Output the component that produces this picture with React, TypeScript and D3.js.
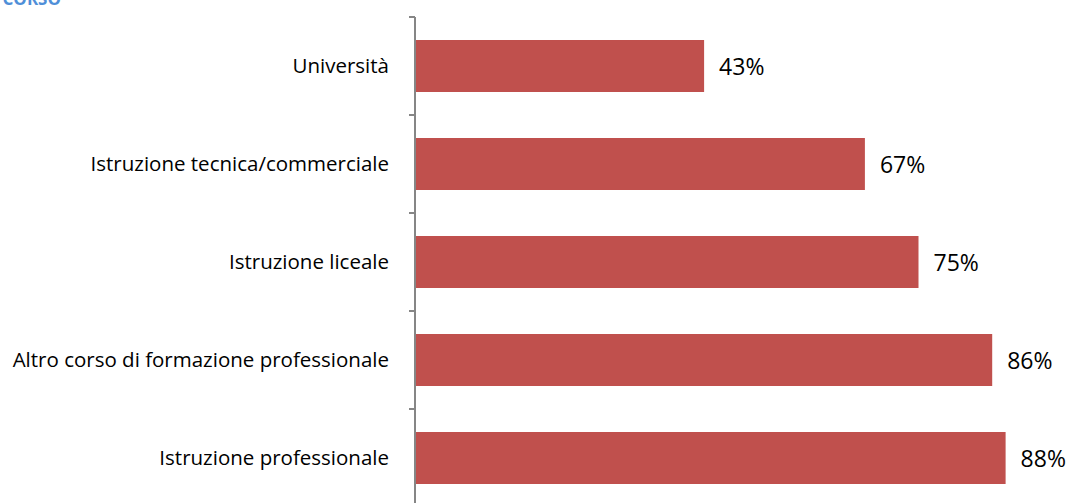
import React from "react";
import * as d3 from "d3";

const categories = [
  "Università",
  "Istruzione tecnica/commerciale",
  "Istruzione liceale",
  "Altro corso di formazione professionale",
  "Istruzione professionale",
];
const values = [43, 67, 75, 86, 88];

const W = 1071;
const H = 503;

export default function App() {
  const y = d3.scaleBand<string>().domain(categories).range([17, 507]).paddingInner(0.4694).paddingOuter(0.2347);
  const x = d3.scaleLinear().domain([0, 100]).range([416, 1086]);
  const step = y.step();
  const pad = (step - y.bandwidth()) / 2;
  const ticks = categories.map((c) => (y(c) as number) - pad).concat([(y(categories[categories.length - 1]) as number) + y.bandwidth() + pad]);
  const axisX = 415;
  return (
    <svg width={W} height={H} style={{ position: "absolute", left: 0, top: 0, background: "#fff" }} fontFamily="'Open Sans', sans-serif">
      <text x={61} y={5} textAnchor="end" fontSize={17} fontWeight="bold" fill="#4F8FD8">CORSO</text>
      {categories.map((c, i) => {
        const yc = (y(c) as number) + y.bandwidth() / 2;
        return (
          <g key={c}>
            <rect x={x(0)} y={y(c)} width={x(values[i]) - x(0)} height={y.bandwidth()} fill="#C0504D" />
            <text x={389} y={yc + 7} textAnchor="end" fontSize={20.5} fill="#000">{c}</text>
            <text x={x(values[i]) + 15} y={yc + 8.5} fontSize={23} fill="#000">{values[i]}%</text>
          </g>
        );
      })}
      <line x1={axisX} x2={axisX} y1={ticks[0]} y2={ticks[ticks.length - 1]} stroke="#868686" strokeWidth={2} />
      {ticks.map((t, i) => (
        <line key={i} x1={409} x2={axisX} y1={t} y2={t} stroke="#868686" strokeWidth={2} />
      ))}
    </svg>
  );
}
